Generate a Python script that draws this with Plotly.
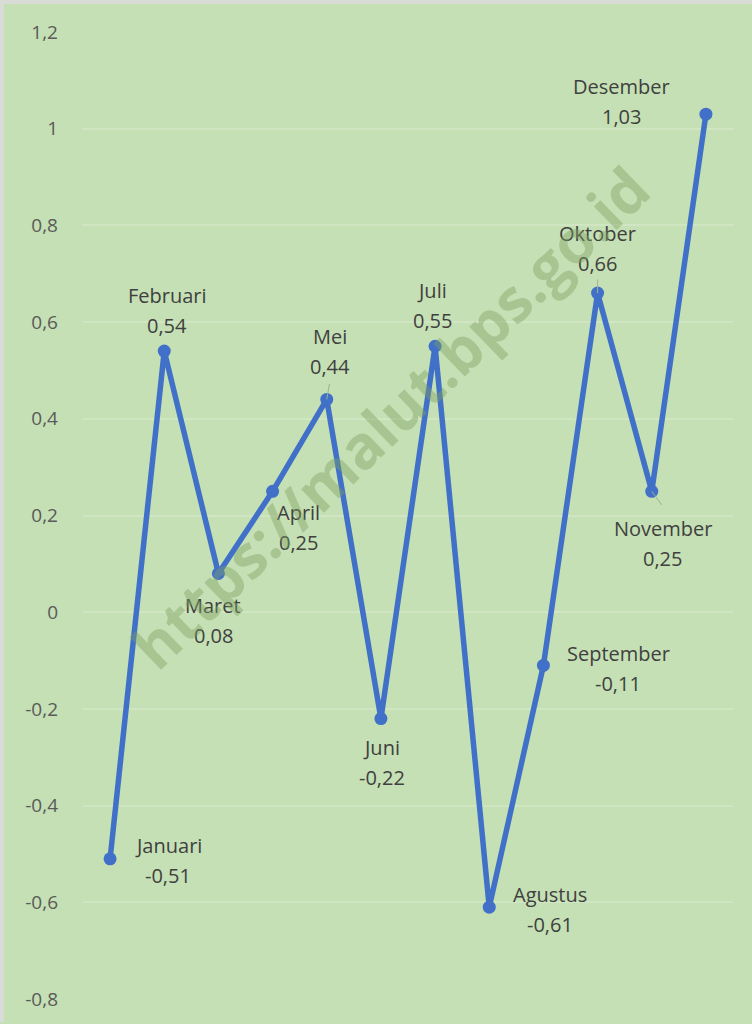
import plotly.graph_objects as go

months = ["Januari", "Februari", "Maret", "April", "Mei", "Juni", "Juli",
          "Agustus", "September", "Oktober", "November", "Desember"]
values = [-0.51, 0.54, 0.08, 0.25, 0.44, -0.22, 0.55, -0.61, -0.11, 0.66, 0.25, 1.03]
value_text = ["-0,51", "0,54", "0,08", "0,25", "0,44", "-0,22", "0,55", "-0,61",
              "-0,11", "0,66", "0,25", "1,03"]
tick_vals = [-0.8, -0.6, -0.4, -0.2, 0, 0.2, 0.4, 0.6, 0.8, 1, 1.2]
tick_text = ["-0,8", "-0,6", "-0,4", "-0,2", "0", "0,2", "0,4", "0,6", "0,8", "1", "1,2"]

# label offsets (pixels) of label block centre relative to point
label_dx = [58, 3, -5, 26, 3, 1, -3, 61, 75, 0, 11, -84]
label_dy = [-2, 41, -47, -36, 48, -44, 41, -2, -3, 45, -52, 13]
# short leader lines (pixel offsets of the free end), None = no leader
leader = [None, None, None, None, (3, -17), None, None, None, None, (0, -15), (11, 15), None]

BG = "#c5e0b4"
LINE = "#4170c8"

fig = go.Figure()
fig.add_trace(go.Scatter(
    x=months, y=values, mode="lines+markers",
    line=dict(color=LINE, width=5.5),
    marker=dict(color=LINE, size=13),
    hoverinfo="skip", showlegend=False,
))

annotations = []
font_lbl = dict(family="Open Sans", size=20, color="#404040")
for m, v, t, dx, dy, ld in zip(months, values, value_text, label_dx, label_dy, leader):
    if ld is not None:
        annotations.append(dict(
            x=m, y=v, xref="x", yref="y", text="", showarrow=True,
            arrowhead=0, arrowwidth=1, arrowcolor="#9fb092",
            ax=ld[0], ay=ld[1], axref="pixel", ayref="pixel",
        ))
    annotations.append(dict(
        x=m, y=v, xref="x", yref="y", text=m, showarrow=False,
        xshift=dx, yshift=dy + 15, font=font_lbl,
    ))
    annotations.append(dict(
        x=m, y=v, xref="x", yref="y", text=t, showarrow=False,
        xshift=dx, yshift=dy - 15, font=font_lbl,
    ))

annotations.append(dict(
    x=0.472, y=0.602, xref="paper", yref="paper",
    text="<b>https://malut.bps.go.id</b>", showarrow=False, textangle=-44,
    font=dict(family="Open Sans", size=60, color="rgba(127,159,98,0.42)"),
))

fig.update_layout(
    width=752, height=1024,
    margin=dict(l=83, r=19, t=32, b=23),
    paper_bgcolor=BG, plot_bgcolor=BG,
    annotations=annotations,
    xaxis=dict(type="category", range=[-0.5, 11.5], showticklabels=False,
               showgrid=False, zeroline=False, showline=False, ticks=""),
    yaxis=dict(range=[-0.8, 1.2], tickvals=tick_vals, ticktext=tick_text,
               showgrid=True, gridcolor="#d0e6c3", gridwidth=1.5,
               zeroline=False, showline=False, ticks="",
               ticklabelstandoff=24,
               tickfont=dict(family="Open Sans", size=19, color="#5a5a5a")),
    shapes=[
        dict(type="rect", xref="paper", yref="paper",
             x0=-83/650, x1=1+19/650, y0=1+32/969 - 4/969, y1=1+32/969,
             fillcolor="#d9dcd6", line=dict(width=0), layer="above"),
        dict(type="rect", xref="paper", yref="paper",
             x0=-83/650, x1=-83/650 + 4/650, y0=-23/969, y1=1+32/969,
             fillcolor="#d9dcd6", line=dict(width=0), layer="above"),
    ],
)

fig.write_html("out.html", config={"displayModeBar": False},
               post_script="document.body.style.margin='0';document.body.style.overflow='hidden';")
